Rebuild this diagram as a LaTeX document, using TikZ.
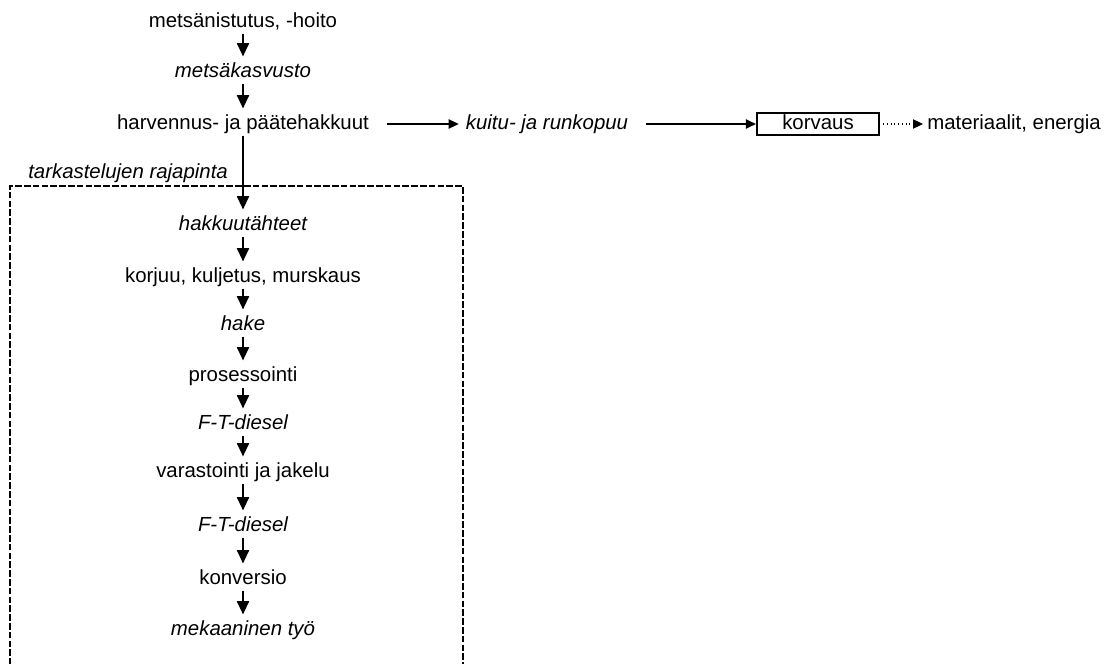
\documentclass[tikz,border=0pt]{standalone}
\usepackage{fontspec}
\setmainfont{Liberation Sans}
\usetikzlibrary{arrows.meta}
\begin{document}
\begin{tikzpicture}[x=0.75pt,y=-0.75pt,
  every node/.style={font=\fontsize{15.3pt}{18pt}\selectfont, inner xsep=0pt, inner ysep=0pt,
    text height=15.4pt, text depth=4.5pt},
  ilbl/.style={font=\fontsize{15.3pt}{18pt}\selectfont\itshape},
  varr/.style={line width=1.5pt, -{Triangle[length=10pt,width=9pt]}},
  harr/.style={line width=1.2pt, -{Triangle[length=7.5pt,width=7pt]}},
  darr/.style={line width=0.8pt, dotted, -{Triangle[length=7.5pt,width=7pt]}},
  boundary/.style={line width=2.1pt, dash pattern=on 5pt off 1.6pt},
  boxed/.style={draw, line width=1.7pt, minimum width=91.5pt, minimum height=17pt,
    text height=11.5pt, text depth=3.8pt}
]
\useasboundingbox (0,0) rectangle (1115,664);
\clip (0,0) rectangle (1115,664);

% system boundary of the study
\draw[boundary] (10,700) -- (10,186) -- (463,186) -- (463,700);
\node[ilbl, anchor=west] (rajalbl) at (28,171) {tarkastelujen rajapinta};

% main chain
\node (istutus) at (243,20) {metsänistutus, -hoito};
\node[ilbl] (kasvusto) at (243,70) {metsäkasvusto};
\node (hakkuut) at (243,122) {harvennus- ja päätehakkuut};
\node[ilbl] (tahteet) at (243,223) {hakkuutähteet};
\node (korjuu) at (243,275) {korjuu, kuljetus, murskaus};
\node[ilbl] (hake) at (243,323) {hake};
\node (prosessointi) at (243,374) {prosessointi};
\node[ilbl] (diesel1) at (243,422) {F-T-diesel};
\node (jakelu) at (243,470) {varastointi ja jakelu};
\node[ilbl] (diesel2) at (243,524) {F-T-diesel};
\node (konversio) at (243,577) {konversio};
\node[ilbl] (tyo) at (243,628) {mekaaninen työ};

\draw[varr] (istutus) -- (kasvusto);
\draw[varr] (kasvusto) -- (hakkuut);
\draw[varr] (hakkuut) -- (tahteet);
\draw[varr] (tahteet) -- (korjuu);
\draw[varr] (korjuu) -- (hake);
\draw[varr] (hake) -- (prosessointi);
\draw[varr] (prosessointi) -- (diesel1);
\draw[varr] (diesel1) -- (jakelu);
\draw[varr] (jakelu) -- (diesel2);
\draw[varr] (diesel2) -- (konversio);
\draw[varr] (konversio) -- (tyo);

% side branch
\node[ilbl] (kuitu) at (547,122) {kuitu- ja runkopuu};
\node[boxed] (korvaus) at (818,124) {korvaus};
\node[anchor=west] (materiaalit) at (927,122) {materiaalit, energia};

\draw[harr] ([xshift=13.5pt]hakkuut.east |- korvaus.west) -- ([xshift=-5.25pt]kuitu.west |- korvaus.west);
\draw[harr] ([xshift=13.5pt]kuitu.east |- korvaus.west) -- (korvaus.west);
\draw[darr] ([xshift=2.25pt]korvaus.east) -- ([xshift=-3pt]materiaalit.west |- korvaus.east);
\end{tikzpicture}
\end{document}
